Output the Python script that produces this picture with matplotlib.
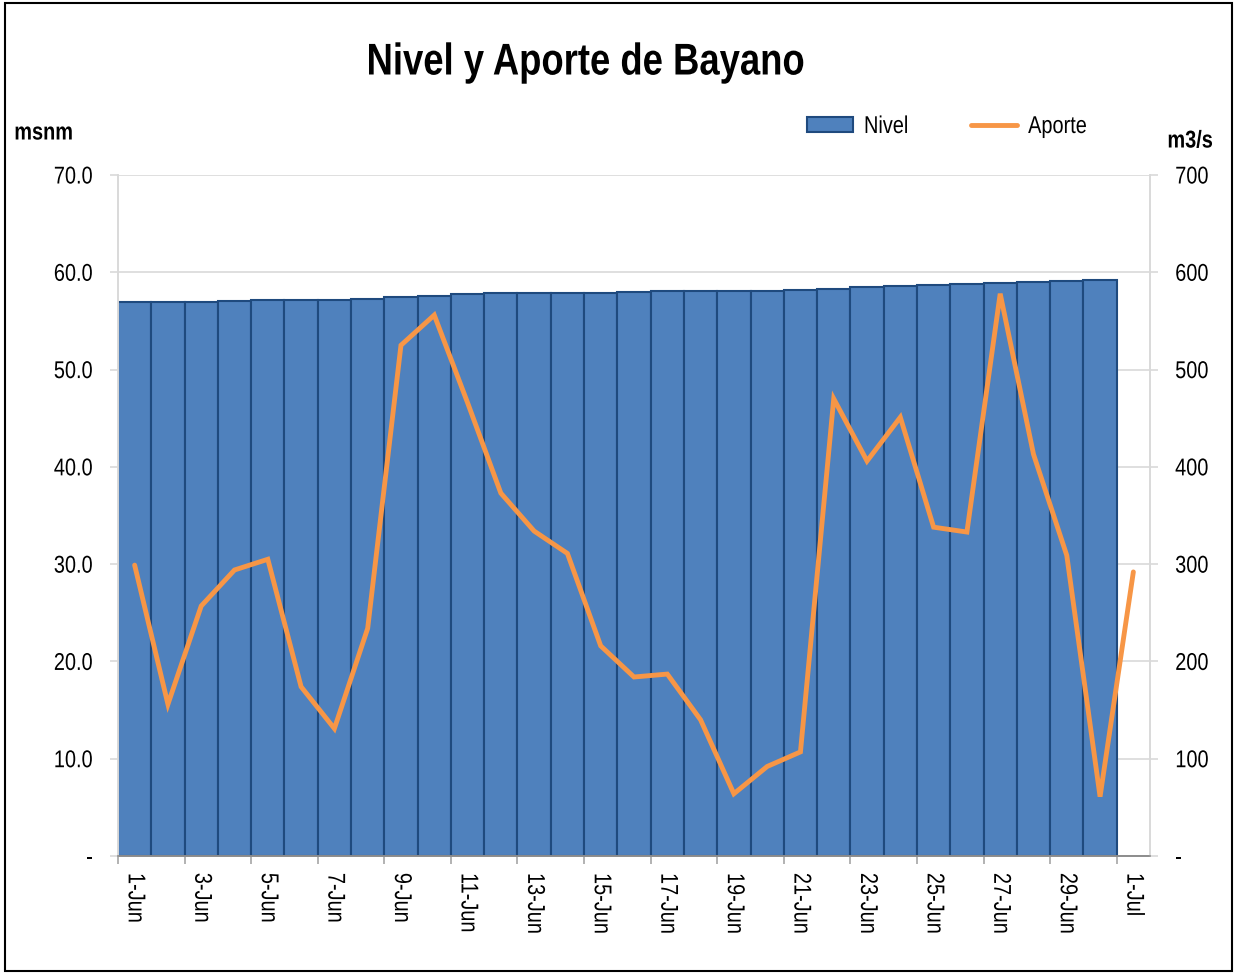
import matplotlib

matplotlib.use("Agg")
import matplotlib.pyplot as plt  # noqa: E402
from matplotlib import patheffects  # noqa: E402
from matplotlib.lines import Line2D  # noqa: E402
from matplotlib.patches import Rectangle  # noqa: E402
from matplotlib.transforms import Affine2D  # noqa: E402

plt.rcParams["font.family"] = ["Liberation Sans", "DejaVu Sans"]

# data
dias = [f"{d}-Jun" for d in range(1, 31)] + ["1-Jul"]
nivel = [56.9, 56.9, 56.9, 57.0, 57.1, 57.2, 57.2, 57.3, 57.45, 57.6,
         57.8, 57.85, 57.9, 57.9, 57.9, 58.0, 58.05, 58.1, 58.1, 58.1,
         58.2, 58.3, 58.45, 58.6, 58.65, 58.8, 58.9, 59.0, 59.1, 59.2]
aporte = [299, 156, 257, 294, 305, 174, 131, 234, 525, 556,
          466, 373, 334, 311, 216, 184, 187, 140, 64, 92,
          107, 470, 406, 451, 338, 333, 578, 413, 309, 61, 292]
left_ticks = [0, 10, 20, 30, 40, 50, 60, 70]
right_ticks = [0, 100, 200, 300, 400, 500, 600, 700]

BAR = "#4F81BD"
BAR_EDGE = "#1F4A7E"
LINE = "#F79646"
GRID = "#D9D9D9"
FS = 17.5
SX = 0.82  # no narrow font installed, so squeeze Liberation Sans along the text direction


class Condense(patheffects.AbstractPathEffect):
    """Draw text narrower, keeping the anchored edge where it was."""

    def __init__(self, sx=SX, anchor="center"):
        super().__init__()
        self.sx = sx
        self.anchor = anchor

    def draw_path(self, renderer, gc, tpath, affine, rgbFace=None):
        ext = tpath.get_extents()
        x0 = {"left": ext.x0, "center": (ext.x0 + ext.x1) / 2, "right": ext.x1}[self.anchor]
        squeeze = Affine2D().translate(-x0, 0).scale(self.sx, 1).translate(x0, 0)
        renderer.draw_path(gc, tpath, squeeze + affine, rgbFace)


def narrow(anchor):
    return [Condense(anchor=anchor)]


fig = plt.figure(figsize=(12.34, 9.74), dpi=100)
ax = fig.add_axes([118 / 1234, 1 - 856 / 974, (1150 - 118) / 1234, (856 - 175) / 974])
ax2 = ax.twinx()

x = list(range(len(dias)))
ax.bar(x[:len(nivel)], nivel, width=1.0, color=BAR, edgecolor=BAR_EDGE, linewidth=1.5, zorder=2)
ax2.plot(x, aporte, color=LINE, lw=3.5, solid_joinstyle="miter", solid_capstyle="round")

ax.set_xlim(-0.5, len(dias) - 0.5)
ax.set_ylim(0, 70)
ax2.set_ylim(0, 700)

ax.set_yticks(left_ticks)
ax.set_yticklabels(["-"] + [f"{v:.1f}" for v in left_ticks[1:]])
ax2.set_yticks(right_ticks)
ax2.set_yticklabels(["-"] + [str(v) for v in right_ticks[1:]])

ax.grid(axis="y", color=GRID, lw=1.2, zorder=0)
ax.set_axisbelow(True)

# labels every two days at the category centre, tick marks at the boundaries
ax.set_xticks(x[::2])
ax.set_xticklabels(dias[::2], rotation=-90, fontsize=FS, va="top", ha="center")
ax.tick_params(axis="x", which="major", length=0, pad=12)
ax.set_xticks([i - 0.5 for i in x[::2]], minor=True)
ax.tick_params(axis="x", which="minor", length=6, color="#A6A6A6", width=1.2)

ax.tick_params(axis="y", labelsize=FS, length=6, color=GRID, width=1.2, pad=12)
ax2.tick_params(axis="y", labelsize=FS, length=6, color=GRID, width=1.2, pad=12)

for t in ax.get_xticklabels():
    t.set_path_effects(narrow("left"))
for t in ax.get_yticklabels():
    t.set_path_effects(narrow("right"))
for t in ax2.get_yticklabels():
    t.set_path_effects(narrow("left"))

for a in (ax, ax2):
    a.spines["top"].set_visible(False)
    a.spines["left"].set_color(GRID)
    a.spines["right"].set_color(GRID)
    a.spines["left"].set_linewidth(1.2)
    a.spines["right"].set_linewidth(1.2)
    a.spines["bottom"].set_color("#8C8C8C")
    a.spines["bottom"].set_linewidth(1.2)

fig.text(586 / 1234, 1 - 63 / 974, "Nivel y Aporte de Bayano", ha="center", va="center",
         fontsize=32, fontweight="bold", path_effects=narrow("center"))
fig.text(14 / 1234, 1 - 133 / 974, "msnm", ha="left", va="center", fontsize=FS,
         fontweight="bold", path_effects=narrow("left"))
fig.text(1190 / 1234, 1 - 141 / 974, "m3/s", ha="center", va="center", fontsize=FS,
         fontweight="bold", path_effects=narrow("center"))

handles = [Rectangle((0, 0), 1, 1, facecolor=BAR, edgecolor=BAR_EDGE, linewidth=1.5),
           Line2D([0], [0], color=LINE, lw=3.5, solid_capstyle="round")]
leg = fig.legend(handles, ["Nivel", "Aporte"], loc="center",
                 bbox_to_anchor=(953 / 1234, 1 - 127 / 974),
                 ncol=2, frameon=False, fontsize=FS, handlelength=1.9, handleheight=0.6,
                 handletextpad=0.45, columnspacing=2.2)
for t in leg.get_texts():
    t.set_path_effects(narrow("left"))

fig.patches.append(Rectangle((5 / 1234, 3 / 974), 1227 / 1234, 968 / 974, transform=fig.transFigure,
                             fill=False, edgecolor="black", linewidth=1.5))

fig.savefig("out.png", dpi=100)
